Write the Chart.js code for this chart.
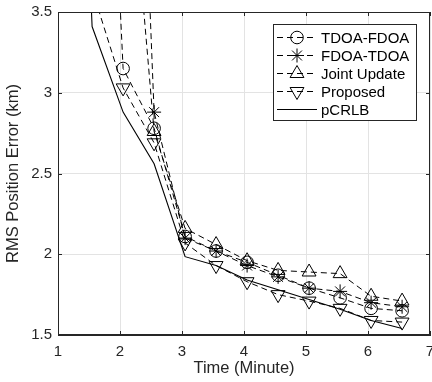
<!DOCTYPE html>
<html>
<head>
<meta charset="utf-8">
<script src="https://cdn.jsdelivr.net/npm/chart.js@4.4.1/dist/chart.umd.min.js"></script>
<style>
  html, body { margin: 0; padding: 0; background: #fff; overflow: hidden; }
  canvas { display: block; }
</style>
</head>
<body>
<canvas id="rmsChart" width="432" height="382"></canvas>
<script>
// time axis (minutes)
const times = [1.05, 1.55, 2.05, 2.55, 3.05, 3.55, 4.05, 4.55, 5.05, 5.55, 6.05, 6.55];

// RMS position error (km)
const tdoaFdoa   = [null, 7.2, 3.15, 2.78, 2.11, 2.02, 1.95, 1.87, 1.79, 1.73, 1.665, 1.65];
const fdoaTdoa   = [null, null, 7.7, 2.88, 2.10, 2.02, 1.93, 1.86, 1.79, 1.77, 1.70, 1.675];
const jointUpd   = [null, null, 5.0, 2.76, 2.16, 2.06, 1.96, 1.90, 1.89, 1.88, 1.74, 1.71];
const proposed   = [null, 3.64, 3.03, 2.69, 2.07, 1.93, 1.83, 1.75, 1.71, 1.665, 1.59, 1.58];
const pcrlb      = [8.0, 3.41, 2.88, 2.56, 1.985, 1.93, 1.84, 1.78, 1.72, 1.66, 1.59, 1.54];

const seriesNames = ['TDOA-FDOA', 'FDOA-TDOA', 'Joint Update', 'Proposed', 'pCRLB'];
const xTicks = [1, 2, 3, 4, 5, 6, 7];
const yTicks = [1.5, 2, 2.5, 3, 3.5];

const axisColor = '#262626';
const gridColor = '#e3e3e3';

function toPoints(arr) {
  return times.map((t, i) => ({ x: t, y: arr[i] }));
}

function dashed(name, vals, style, rot, rad) {
  return {
    label: name,
    data: toPoints(vals),
    borderColor: '#000',
    borderWidth: 1,
    borderDash: [6, 4],
    pointStyle: style,
    pointRotation: rot,
    pointRadius: rad,
    pointBorderWidth: 1,
    pointBorderColor: '#000',
    pointBackgroundColor: 'rgba(0,0,0,0)',
    fill: false,
    tension: 0
  };
}

const datasets = [
  dashed(seriesNames[0], tdoaFdoa, 'circle', 0, 6.3),
  dashed(seriesNames[1], fdoaTdoa, 'star', 0, 7),
  dashed(seriesNames[2], jointUpd, 'triangle', 0, 8),
  dashed(seriesNames[3], proposed, 'triangle', 180, 8),
  {
    label: seriesNames[4],
    data: toPoints(pcrlb),
    borderColor: '#000',
    borderWidth: 1.1,
    pointRadius: 0,
    fill: false,
    tension: 0
  }
];

// box frame + inward ticks like matlab
const framePlugin = {
  id: 'frame',
  afterDatasetsDraw(chart) {
    const ctx = chart.ctx;
    const a = chart.chartArea;
    const xs = chart.scales.x, ys = chart.scales.y;
    ctx.save();
    ctx.strokeStyle = axisColor;
    ctx.lineWidth = 1;
    ctx.beginPath();
    xTicks.forEach(v => {
      const px = Math.round(xs.getPixelForValue(v)) + 0.5;
      ctx.moveTo(px, a.bottom); ctx.lineTo(px, a.bottom - 4);
      ctx.moveTo(px, a.top); ctx.lineTo(px, a.top + 4);
    });
    yTicks.forEach(v => {
      const py = Math.round(ys.getPixelForValue(v)) + 0.5;
      ctx.moveTo(a.left, py); ctx.lineTo(a.left + 4, py);
      ctx.moveTo(a.right, py); ctx.lineTo(a.right - 4, py);
    });
    ctx.stroke();
    ctx.strokeRect(Math.round(a.left) + 0.5, Math.round(a.top) + 0.5,
      Math.round(a.right - a.left) - 1, Math.round(a.bottom - a.top) - 1);
    ctx.restore();
  }
};

// legend box inside the axes (north-east)
const boxLegend = {
  id: 'boxLegend',
  afterDraw(chart) {
    const ctx = chart.ctx;
    const bx = 273.5, by = 24.5, bw = 143, bh = 96;
    ctx.save();
    ctx.fillStyle = '#fff';
    ctx.fillRect(bx, by, bw, bh);
    ctx.strokeStyle = axisColor;
    ctx.lineWidth = 1;
    ctx.strokeRect(bx, by, bw, bh);
    ctx.font = '15px "Liberation Sans", Arial, sans-serif';
    ctx.textBaseline = 'middle';
    chart.data.datasets.forEach((ds, i) => {
      const y = 37.5 + i * 18;
      ctx.strokeStyle = '#000';
      ctx.lineWidth = 1;
      ctx.setLineDash(ds.borderDash || []);
      ctx.beginPath();
      ctx.moveTo(277, y);
      ctx.lineTo(317, y);
      ctx.stroke();
      ctx.setLineDash([]);
      if (ds.pointRadius > 0 && Chart.helpers && Chart.helpers.drawPoint) {
        ctx.fillStyle = 'rgba(0,0,0,0)';
        Chart.helpers.drawPoint(ctx, {
          pointStyle: ds.pointStyle,
          rotation: ds.pointRotation,
          radius: ds.pointRadius,
          borderWidth: 1
        }, 297, y);
      }
      ctx.fillStyle = '#000';
      ctx.fillText(ds.label, 321, y + 1);
    });
    ctx.restore();
  }
};

const tickFont = { family: '"Liberation Sans", Arial, sans-serif', size: 15 };
const titleFont = { family: '"Liberation Sans", Arial, sans-serif', size: 16.5 };

new Chart(document.getElementById('rmsChart'), {
  type: 'line',
  data: { datasets: datasets },
  options: {
    animation: false,
    responsive: false,
    devicePixelRatio: 1,
    layout: { autoPadding: false, padding: { top: 12, right: 2, left: 0, bottom: 0 } },
    plugins: {
      legend: { display: false },
      tooltip: { enabled: false }
    },
    scales: {
      x: {
        type: 'linear',
        min: 1, max: 7,
        afterBuildTicks: s => { s.ticks = xTicks.map(v => ({ value: v })); },
        afterFit: s => { s.height = 47; s.paddingLeft = 0; s.paddingRight = 0; },
        ticks: { color: axisColor, font: tickFont, padding: 8, maxRotation: 0, callback: v => String(v) },
        grid: { color: gridColor, drawTicks: false },
        border: { color: axisColor },
        title: { display: true, text: 'Time (Minute)', color: axisColor, font: titleFont }
      },
      y: {
        min: 1.5, max: 3.5,
        afterBuildTicks: s => { s.ticks = yTicks.map(v => ({ value: v })); },
        afterFit: s => { s.width = 58; s.paddingTop = 0; s.paddingBottom = 0; },
        ticks: { color: axisColor, font: tickFont, padding: 6, callback: v => String(v) },
        grid: { color: gridColor, drawTicks: false },
        border: { color: axisColor },
        title: { display: true, text: 'RMS Position Error (km)', color: axisColor, font: titleFont }
      }
    }
  },
  plugins: [framePlugin, boxLegend]
});
</script>
</body>
</html>
